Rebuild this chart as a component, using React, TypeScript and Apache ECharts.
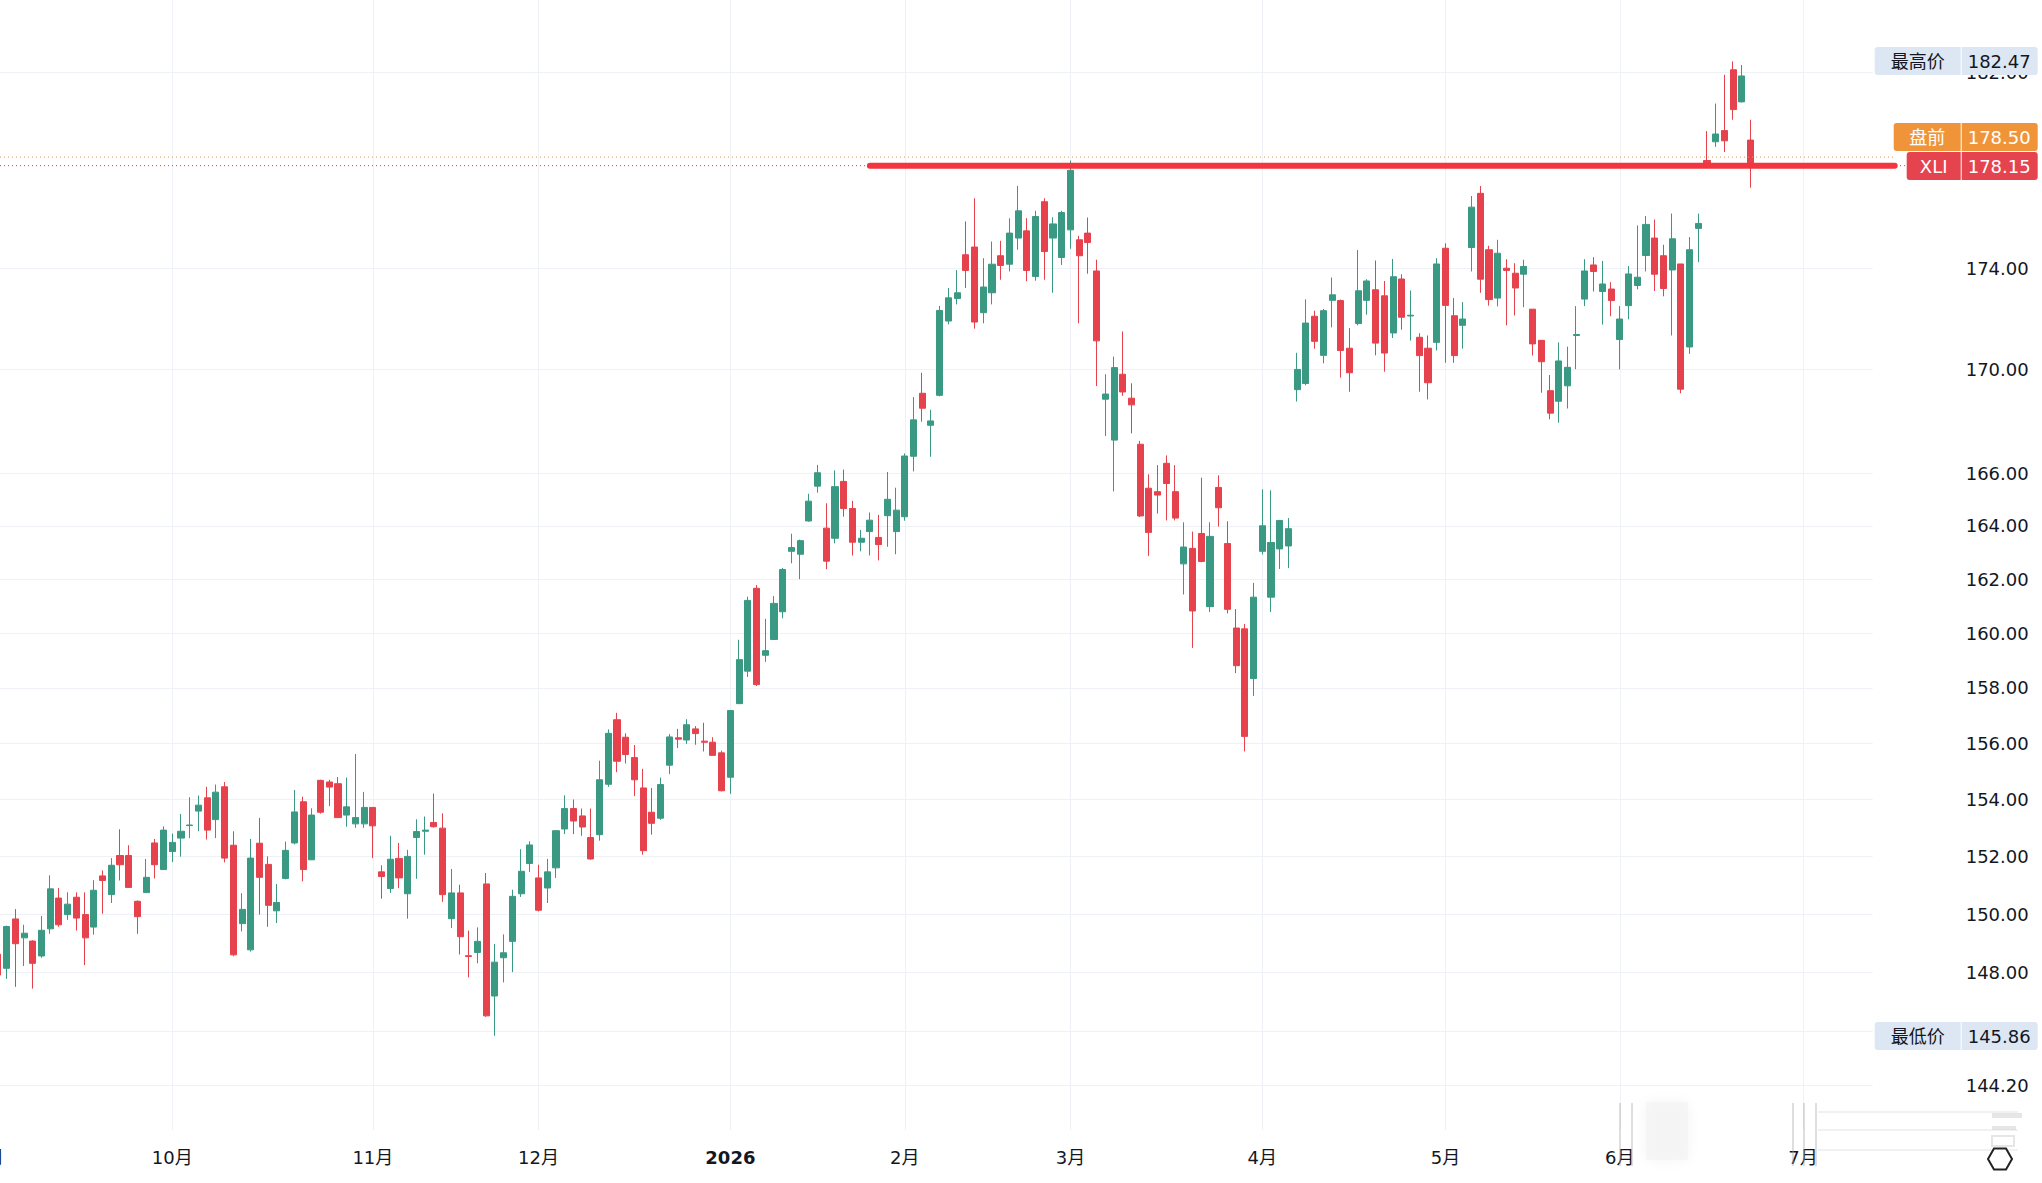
import React, { useEffect, useRef } from "react";
import * as echarts from "echarts";

// ---- Data (XLI daily candles) ----
const opens = [
  148.62,148.14,149.83,149.18,149.07,148.56,149.49,150.55,149.98,150.58,
  149.98,149.55,151.32,150.67,152.03,152.03,150.44,150.74,152.47,151.54,
  152.17,152.64,153.08,153.59,154.06,153.29,154.45,152.39,149.67,148.77,
  152.46,151.72,150.11,151.23,152.47,153.92,151.88,154.68,154.62,154.56,
  153.45,153.14,153.14,153.72,151.46,150.88,151.93,150.70,152.66,152.88,
  153.19,152.99,149.84,150.73,148.57,148.68,151.04,147.20,148.50,149.06,
  150.70,151.75,151.25,150.90,151.60,152.96,153.68,153.42,152.66,152.76,
  154.54,156.85,156.22,155.49,154.41,153.55,153.34,155.22,156.20,156.12,
  156.52,156.08,156.04,155.66,154.79,157.43,158.61,161.66,159.19,159.77,
  160.79,163.04,162.93,164.18,165.50,163.91,163.53,165.68,164.65,163.38,
  163.78,163.56,164.38,163.78,164.34,166.64,169.07,167.83,168.99,171.90,
  172.79,174.54,174.85,172.23,173.02,174.50,174.16,175.21,175.50,173.67,
  176.68,175.21,174.43,175.54,175.14,175.41,173.89,168.84,167.26,169.81,
  168.88,167.10,165.42,165.29,166.37,165.29,162.57,163.15,163.71,160.98,
  165.45,163.33,160.19,160.16,158.34,163.04,161.33,163.13,163.24,169.21,
  169.45,172.09,170.55,172.72,172.71,170.83,171.80,172.72,173.14,172.90,
  171.43,173.57,172.10,171.26,170.83,171.06,174.80,172.11,171.73,174.83,
  177.02,174.74,172.81,174.00,173.80,173.76,172.37,171.14,169.17,168.76,
  169.36,171.33,172.77,174.13,173.07,173.17,171.17,172.51,173.31,174.51,
  175.21,174.50,173.93,174.17,170.88,175.60,178.36,179.13,179.59,182.12,
  180.78,179.20,
];
const closes = [
  147.91,149.57,148.98,149.34,148.31,149.44,150.87,149.63,150.34,149.86,
  149.18,150.82,151.16,151.69,151.71,150.92,149.91,151.27,151.71,152.92,
  152.49,152.88,153.10,153.80,152.92,154.26,151.94,148.60,150.16,151.94,
  151.27,150.30,150.40,152.21,153.56,151.54,153.45,153.55,154.44,153.36,
  153.74,153.36,153.72,153.07,151.30,151.90,151.25,152.00,152.87,152.92,
  153.04,150.67,150.73,149.22,148.54,149.06,146.53,148.35,148.67,150.61,
  151.48,152.40,150.13,151.46,152.90,153.68,153.24,153.03,151.91,154.70,
  156.36,155.36,155.60,154.70,152.20,153.16,154.53,156.23,156.15,156.67,
  156.35,156.04,155.57,154.31,157.18,159.03,161.21,158.12,159.36,161.10,
  162.36,163.18,163.44,164.93,166.01,162.67,165.48,164.65,163.38,163.53,
  164.21,163.29,165.00,164.59,166.65,168.04,168.49,168.00,172.32,172.82,
  173.02,173.91,171.86,173.25,174.16,174.11,175.41,176.31,173.91,176.08,
  174.67,175.78,176.24,177.96,174.50,175.03,171.12,169.04,170.07,169.12,
  168.62,164.37,163.75,165.16,165.60,164.29,163.20,160.82,162.66,163.60,
  164.68,160.88,158.81,156.25,161.33,164.00,163.37,164.20,163.89,170.00,
  171.82,171.10,172.31,172.94,170.74,169.87,173.10,173.49,171.03,170.64,
  173.66,172.05,172.13,170.54,169.48,174.17,172.52,170.54,171.98,176.46,
  173.56,172.75,174.60,173.91,173.21,174.07,171.00,170.30,168.30,170.33,
  170.08,171.37,173.89,173.87,173.37,172.71,171.98,173.77,173.64,175.76,
  173.76,173.19,175.18,169.23,174.74,175.80,178.16,179.45,179.17,180.46,
  181.86,178.15,
];
const lows = [
  147.80,147.78,147.51,148.22,147.45,148.50,149.32,149.56,149.80,149.43,
  148.25,149.29,150.01,150.38,151.16,150.92,149.32,150.74,151.23,151.54,
  151.80,151.99,152.64,152.88,152.59,152.64,151.79,148.55,149.40,148.71,
  149.98,149.56,149.69,151.20,152.42,151.13,151.88,153.50,153.77,153.36,
  153.04,153.00,153.00,151.94,150.53,150.73,150.90,149.84,151.22,152.06,
  153.01,150.42,149.52,148.61,147.83,148.31,146.50,145.86,147.66,148.01,
  150.59,151.46,150.09,150.38,151.25,152.78,152.78,152.72,151.88,152.55,
  154.45,154.97,155.28,154.12,152.06,152.76,153.28,154.90,155.83,155.98,
  155.95,155.71,155.57,154.29,154.20,157.43,158.40,158.07,158.95,159.77,
  160.55,162.59,162.00,164.15,165.25,162.37,163.34,164.34,162.88,163.04,
  162.88,162.70,163.21,162.93,164.19,166.06,167.97,166.62,168.95,171.77,
  172.56,173.21,171.60,171.81,172.56,173.54,173.87,174.74,173.48,173.50,
  173.54,173.02,174.13,174.78,171.81,173.78,169.35,167.42,165.30,168.97,
  167.52,164.33,162.87,164.46,164.20,164.20,161.43,159.46,162.63,160.78,
  163.97,160.73,158.54,155.71,157.71,162.92,160.78,162.38,162.41,168.75,
  169.38,170.81,170.24,171.65,169.68,169.13,171.73,172.15,170.55,169.91,
  171.23,171.56,171.13,169.13,168.83,170.74,170.26,170.26,170.81,173.87,
  173.02,172.51,172.48,171.73,172.12,172.45,170.54,169.09,168.06,167.93,
  168.48,170.01,172.49,173.07,171.76,172.09,170.00,171.97,173.16,173.87,
  173.09,172.88,171.33,169.07,170.61,174.24,178.07,178.92,178.71,180.04,
  180.76,177.25,
];
const highs = [
  148.70,149.60,150.17,149.63,149.10,149.93,151.34,150.90,150.75,150.75,
  150.75,151.17,151.51,151.94,152.95,152.39,150.47,151.91,152.61,153.05,
  152.80,153.49,154.08,154.14,154.45,154.53,154.62,152.88,150.72,152.61,
  153.35,152.00,151.04,152.52,154.34,154.10,153.69,154.70,154.70,154.80,
  154.78,155.62,154.27,153.72,151.69,152.72,152.47,152.23,153.30,153.40,
  154.21,153.51,151.56,151.01,149.43,149.54,151.42,148.97,149.30,150.84,
  152.25,152.53,151.71,151.91,152.92,154.15,154.00,153.68,153.68,155.38,
  156.50,157.10,156.36,155.94,155.09,154.41,154.78,156.33,156.52,156.87,
  156.62,156.74,156.22,155.74,157.18,159.76,161.35,161.78,160.53,161.37,
  162.42,163.70,163.48,165.21,166.31,164.85,166.10,166.13,164.94,163.84,
  164.50,164.41,166.04,165.44,166.75,168.92,169.87,168.43,172.50,173.21,
  173.93,175.88,176.82,174.40,175.07,175.10,176.01,177.32,176.01,176.31,
  176.82,176.05,176.31,178.36,175.30,176.04,174.34,169.81,170.50,171.49,
  169.46,167.23,165.95,166.30,166.67,166.30,164.13,163.78,165.82,164.13,
  165.91,164.17,160.89,160.34,161.86,165.38,165.34,164.22,164.29,170.65,
  172.76,172.31,172.38,173.63,172.75,171.62,174.73,173.56,174.31,173.49,
  174.37,173.76,173.11,171.42,171.33,174.40,175.00,172.81,172.65,176.91,
  177.32,174.90,175.14,174.36,174.20,174.34,172.37,171.14,169.78,171.06,
  170.89,172.49,174.36,174.44,174.29,173.44,172.49,174.09,175.72,176.10,
  175.96,174.94,176.20,174.17,175.25,176.20,179.57,180.71,181.91,182.47,
  182.32,180.04,
];

// Calendar: month labels and number of trading-day slots shown per month
const monthNames = ["9月", "10月", "11月", "12月", "2026", "2月", "3月", "4月", "5月", "6月", "7月"];
const monthTradingDays = [21, 23, 19, 22, 20, 19, 22, 21, 20, 21, 9];
const leadingEmptySlots = 1; // 9月 first session, off-screen

// Price scale
const yGridValues = [182, 174, 170, 166, 164, 162, 160, 158, 156, 154, 152, 150, 148, 146, 144.2];
const yLabelValues = [182, 174, 170, 166, 164, 162, 160, 158, 156, 154, 152, 150, 148, 144.2];
const yMin = 142.736;
const yMax = 185.063;

// Annotations
const symbolName = "XLI";
const lastPrice = 178.15;
const preMarketPrice = 178.5;
const highestPrice = 182.47;
const lowestPrice = 145.86;
const trendLineStartCandle = 100;

const FONT = '"DejaVu Sans", "Noto Sans CJK SC", sans-serif';
const UP = "#3a9983";
const DOWN = "#e5424d";
const GRID = "#eef1f5";
const TEXT = "#131722";

export default function App() {
  const ref = useRef<HTMLDivElement>(null);

  useEffect(() => {
    document.body.style.margin = "0";
    const el = ref.current!;
    const chart = echarts.init(el, null, { renderer: "svg" });

    const categories: string[] = [];
    monthTradingDays.forEach((n, m) => {
      for (let d = 0; d < n; d++) categories.push(`${m}-${d}`);
    });
    const isMonthStart = (_i: number, v: string) => String(v).endsWith("-0");

    const candleData: any[] = [];
    for (let k = 0; k < leadingEmptySlots; k++) candleData.push("-");
    for (let i = 0; i < opens.length; i++) {
      candleData.push([
        Math.log(opens[i]),
        Math.log(closes[i]),
        Math.log(lows[i]),
        Math.log(highs[i]),
      ]);
    }

    const option: any = {
      animation: false,
      backgroundColor: "#ffffff",
      grid: {
        left: -10.82,
        right: 169.3,
        top: 0,
        bottom: 53,
        containLabel: false,
        outerBoundsMode: "none",
      },
      xAxis: {
        type: "category",
        data: categories,
        boundaryGap: false,
        axisLine: { show: false },
        axisTick: { show: false },
        axisLabel: {
          interval: isMonthStart,
          margin: 18,
          fontSize: 18,
          fontFamily: FONT,
          color: TEXT,
          hideOverlap: false,
          formatter: (v: string) => {
            const [m, d] = String(v).split("-").map(Number);
            if (d !== 0) return "";
            const name = monthNames[m];
            return /^\d{4}$/.test(name) ? `{b|${name}}` : name;
          },
          rich: {
            b: { fontWeight: "bold", fontSize: 18, fontFamily: FONT, color: TEXT },
          },
        },
        splitLine: {
          show: true,
          interval: isMonthStart,
          lineStyle: { color: GRID, width: 1 },
        },
      },
      yAxis: {
        type: "value",
        position: "right",
        min: Math.log(yMin),
        max: Math.log(yMax),
        axisLine: { show: false },
        axisTick: { show: false, customValues: yGridValues.map((v) => Math.log(v)) },
        axisLabel: {
          customValues: yLabelValues.map((v) => Math.log(v)),
          margin: 93,
          align: "left",
          fontSize: 18,
          fontFamily: FONT,
          color: TEXT,
          formatter: (v: number) => Math.exp(v).toFixed(2),
        },
        splitLine: { show: true, lineStyle: { color: GRID, width: 1 } },
      },
      series: [
        {
          type: "candlestick",
          data: candleData,
          barWidth: 6.6,
          itemStyle: {
            color: UP,
            color0: DOWN,
            borderColor: UP,
            borderColor0: DOWN,
            borderWidth: 1,
          },
        },
      ],
    };

    chart.setOption(option);

    const yPx = (p: number) => chart.convertToPixel({ yAxisIndex: 0 }, Math.log(p)) as number;
    const xPx = (k: number) => chart.convertToPixel({ xAxisIndex: 0 }, k) as number;

    const gridRight = xPx(categories.length - 1);
    const yLast = yPx(lastPrice);
    const boxH = 28;
    const yPre = Math.min(yPx(preMarketPrice), yLast - boxH - 1);
    const yPreLine = yPx(preMarketPrice);
    const yHigh = yPx(highestPrice);
    const yLow = yPx(lowestPrice);
    const sepX = gridRight + 88;
    const boxRight = gridRight + 165;
    const valueX = sepX + 7;

    const textStyle = (text: string, fill: string, align: string) => ({
      text,
      fill,
      font: `18px ${FONT}`,
      align,
      verticalAlign: "middle",
      textAlign: align,
      textVerticalAlign: "middle",
    });

    const priceBox = (left: number, cy: number, label: string, value: string, bg: string, fg: string) => {
      const top = Math.round(cy - boxH / 2);
      return [
        { type: "rect", z: 100, shape: { x: left, y: top, width: sepX - left, height: boxH, r: [3, 0, 0, 3] }, style: { fill: bg } },
        { type: "rect", z: 100, shape: { x: sepX + 1, y: top, width: boxRight - sepX - 1, height: boxH, r: [0, 3, 3, 0] }, style: { fill: bg } },
        { type: "text", z: 101, x: (left + sepX) / 2, y: top + boxH / 2, style: textStyle(label, fg, "center") },
        { type: "text", z: 101, x: valueX, y: top + boxH / 2, style: textStyle(value, fg, "left") },
      ];
    };

    const hex: number[][] = [];
    for (let k = 0; k < 6; k++) {
      const a = (Math.PI / 3) * k;
      hex.push([2000 + 12 * Math.cos(a), 1159 + 12 * Math.sin(a)]);
    }

    const graphics: any[] = [
      // dotted price lines
      { type: "line", z: 90, shape: { x1: 0, y1: yPreLine, x2: gridRight + 21, y2: yPreLine }, style: { stroke: "#f0943a", lineWidth: 1, lineDash: [1, 3] } },
      { type: "line", z: 90, shape: { x1: 0, y1: yLast, x2: gridRight + 34, y2: yLast }, style: { stroke: "#e5434d", lineWidth: 1, lineDash: [1, 3] } },
      // thick horizontal resistance line
      {
        type: "line",
        z: 95,
        shape: { x1: xPx(leadingEmptySlots + trendLineStartCandle), y1: yLast, x2: gridRight + 22, y2: yLast },
        style: { stroke: "#f2353f", lineWidth: 6, lineCap: "round" },
      },
      ...priceBox(gridRight + 2, yHigh, "最高价", highestPrice.toFixed(2), "#dde7f3", TEXT),
      ...priceBox(gridRight + 2, yLow, "最低价", lowestPrice.toFixed(2), "#dde7f3", TEXT),
      ...priceBox(gridRight + 21, yPre, "盘前", preMarketPrice.toFixed(2), "#f0943a", "#ffffff"),
      ...priceBox(gridRight + 34, yLast, symbolName, lastPrice.toFixed(2), "#e5434d", "#ffffff"),
      // faint blurred watermark at bottom right
      { type: "rect", z: 80, shape: { x: 1646, y: 1102, width: 42, height: 58 }, style: { fill: "#f3f3f3", opacity: 0.6, shadowBlur: 14, shadowColor: "#eeeeee" } },
      ...[1620, 1632, 1793, 1804, 1816].map((x) => ({
        type: "line", z: 81, shape: { x1: x, y1: 1103, x2: x, y2: 1166 }, style: { stroke: "#a0a0a0", lineWidth: 2, opacity: 0.35 },
      })),
      ...[1112, 1130, 1150].map((y) => ({
        type: "line", z: 81, shape: { x1: 1818, y1: y, x2: 2018, y2: y }, style: { stroke: "#e0e0e0", lineWidth: 2, opacity: 0.45 },
      })),
      { type: "rect", z: 81, shape: { x: 1992, y: 1113, width: 30, height: 5 }, style: { fill: "#d6d6d6", opacity: 0.6 } },
      { type: "rect", z: 81, shape: { x: 1992, y: 1126, width: 24, height: 4 }, style: { fill: "#d6d6d6", opacity: 0.6 } },
      { type: "rect", z: 81, shape: { x: 1992, y: 1136, width: 22, height: 10 }, style: { fill: "none", stroke: "#d6d6d6", lineWidth: 2, opacity: 0.6 } },
      { type: "polygon", z: 82, shape: { points: hex }, style: { fill: "#ffffff", stroke: "#222222", lineWidth: 2 } },
    ];

    chart.setOption({ graphic: graphics });

    return () => chart.dispose();
  }, []);

  return <div ref={ref} style={{ width: 2042, height: 1183, background: "#ffffff" }} />;
}
